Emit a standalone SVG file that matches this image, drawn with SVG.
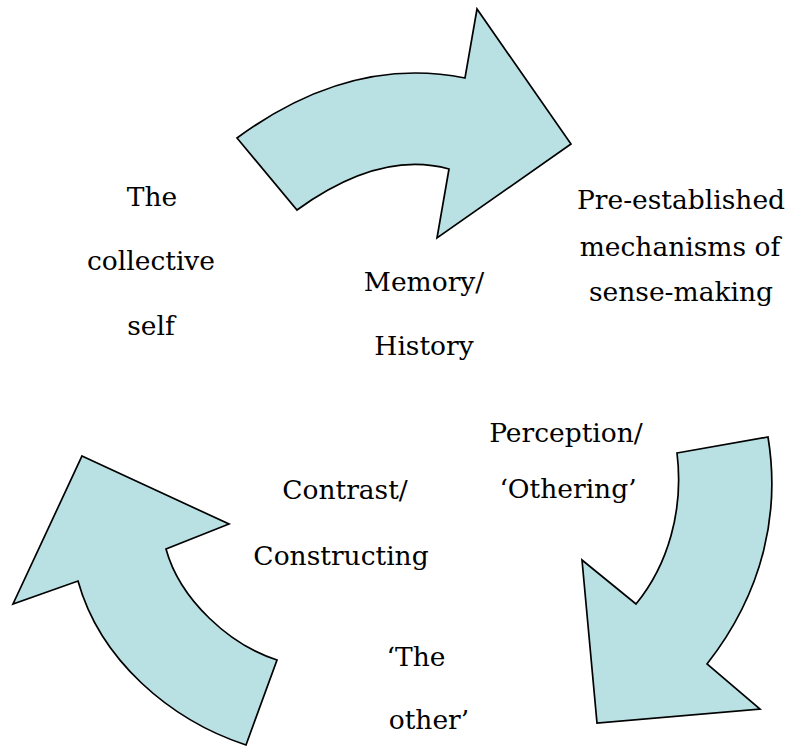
<svg xmlns="http://www.w3.org/2000/svg" width="788" height="747" viewBox="0 0 788 747">
<style>
.arrow{fill:#b9e0e3;stroke:#000;stroke-width:1.7;stroke-linejoin:miter}
.t{font-family:"DejaVu Serif","Liberation Serif",serif;font-size:26.5px;fill:#000;text-anchor:middle}
</style>
<rect width="788" height="747" fill="#fff"/>
<g id="connectors">
<path id="arrow-top" class="arrow" d="M237,138 Q350,55 465,78 L477,9 L571,144 L437,238 L449,169 Q380,150 297,210 Z"/>
<path id="arrow-right" class="arrow" d="M677,453 L768,437 C780,510 765,590 707,664 L760,709 L597,723 L582,560 L636,604 C668,565 684,510 677,453 Z"/>
<path id="arrow-left" class="arrow" d="M82,456 L229,524 L166,549 C180,600 230,645 277,660 L246,745 C170,720 100,660 78,581 L13,604 Z"/>
</g>
<g id="node-collective-self">
<text class="t" x="152" y="206">The</text>
<text class="t" x="151" y="270">collective</text>
<text class="t" x="151" y="335">self</text>
</g>
<g id="node-memory">
<text class="t" x="424" y="291">Memory/</text>
<text class="t" x="424" y="355">History</text>
</g>
<g id="node-mechanisms">
<text class="t" x="681" y="209">Pre-established</text>
<text class="t" x="680" y="256">mechanisms of</text>
<text class="t" x="681" y="301">sense-making</text>
</g>
<g id="node-perception">
<text class="t" x="566" y="442">Perception/</text>
<text class="t" x="568" y="498">‘Othering’</text>
</g>
<g id="node-contrast">
<text class="t" x="345" y="499">Contrast/</text>
<text class="t" x="341" y="565">Constructing</text>
</g>
<g id="node-other">
<text class="t" x="416" y="666">‘The</text>
<text class="t" x="429" y="729">other’</text>
</g>
</svg>
